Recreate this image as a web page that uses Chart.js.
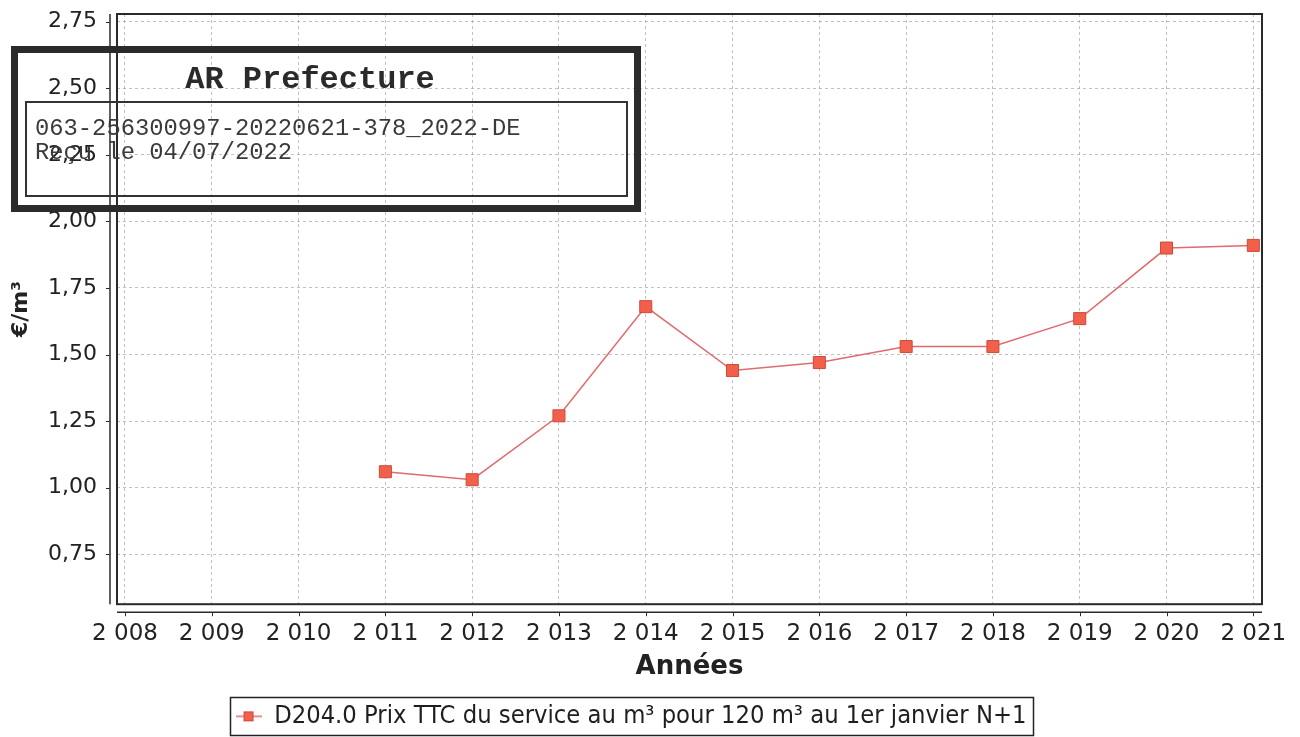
<!DOCTYPE html>
<html>
<head>
<meta charset="utf-8">
<script src="https://cdn.jsdelivr.net/npm/chart.js@4.4.1/dist/chart.umd.min.js"></script>
<style>
  html, body { margin: 0; padding: 0; background: #fff; }
  #wrap { position: relative; width: 1300px; height: 737px; overflow: hidden; }
  #chart { position: absolute; left: 0; top: 0; }
  .stamp-outer { position: absolute; left: 11px; top: 46px; width: 616px; height: 152px; border: 7px solid #2b2b2b; }
  .stamp-inner { position: absolute; left: 25px; top: 101px; width: 599px; height: 92px; border: 2px solid #333; }
  .stamp-title { position: absolute; left: 0; width: 620px; top: 62px; text-align: center; font: bold 32px "Liberation Mono", monospace; color: #2a2a2a; line-height: 36px; }
  .stamp-line { position: absolute; left: 35px; font: 23.8px "Liberation Mono", monospace; color: #3a3a3a; line-height: 26px; white-space: pre; }
</style>
</head>
<body>
<div id="wrap">
  <canvas id="chart" width="1300" height="737"></canvas>
  <div class="stamp-outer"></div>
  <div class="stamp-inner"></div>
  <div class="stamp-title">AR Prefecture</div>
  <div class="stamp-line" style="top:116px">063-256300997-20220621-378_2022-DE</div>
  <div class="stamp-line" style="top:140px">Reçu le 04/07/2022</div>
</div>
<script>
// ---- data ----
const years = [2011, 2012, 2013, 2014, 2015, 2016, 2017, 2018, 2019, 2020, 2021];
const prices = [1.06, 1.03, 1.27, 1.68, 1.44, 1.47, 1.53, 1.53, 1.635, 1.90, 1.91];
const xTickValues = [2008, 2009, 2010, 2011, 2012, 2013, 2014, 2015, 2016, 2017, 2018, 2019, 2020, 2021];
const yTickValues = [0.75, 1.00, 1.25, 1.50, 1.75, 2.00, 2.25, 2.50, 2.75];
const seriesLabel = "D204.0 Prix TTC du service au m³ pour 120 m³ au 1er janvier N+1";
const xTitle = "Années";
const yTitle = "€/m³";

const LINE_COLOR = '#e06a6e';
const POINT_FILL = '#f2604c';
const POINT_EDGE = '#cc4a3c';
const GRID_COLOR = 'rgba(160,160,160,0.65)';

// legend marker (line + square)
const legendMarker = document.createElement('canvas');
legendMarker.width = 26; legendMarker.height = 12;
(function () {
  const c = legendMarker.getContext('2d');
  c.strokeStyle = LINE_COLOR; c.lineWidth = 1.5;
  c.beginPath(); c.moveTo(0, 6); c.lineTo(26, 6); c.stroke();
  c.fillStyle = POINT_FILL; c.fillRect(8, 1, 10, 10);
  c.strokeStyle = POINT_EDGE; c.lineWidth = 1; c.strokeRect(8.5, 1.5, 9, 9);
})();

const framePlugin = {
  id: 'jfreeFrame',
  beforeDatasetsDraw(chart) {
    const { ctx, chartArea: a } = chart;
    ctx.save();
    ctx.strokeStyle = '#2a2a2a';
    ctx.lineWidth = 2;
    ctx.strokeRect(a.left, a.top, a.right - a.left, a.bottom - a.top);
    // detached y axis
    const ax = a.left - 7;
    ctx.lineWidth = 1.5;
    ctx.beginPath(); ctx.moveTo(ax, a.top); ctx.lineTo(ax, a.bottom); ctx.stroke();
    const ys = chart.scales.y;
    ctx.lineWidth = 1;
    yTickValues.forEach(v => {
      const py = Math.round(ys.getPixelForValue(v)) + 0.5;
      ctx.beginPath(); ctx.moveTo(ax - 4, py); ctx.lineTo(ax, py); ctx.stroke();
    });
    // detached x axis
    const ay = a.bottom + 8;
    ctx.lineWidth = 1.5;
    ctx.beginPath(); ctx.moveTo(a.left, ay); ctx.lineTo(a.right, ay); ctx.stroke();
    const xs = chart.scales.x;
    ctx.lineWidth = 1;
    xTickValues.forEach(v => {
      const px = Math.round(xs.getPixelForValue(v)) + 0.5;
      ctx.beginPath(); ctx.moveTo(px, ay); ctx.lineTo(px, ay + 4); ctx.stroke();
    });
    ctx.restore();
  },
  afterDraw(chart) {
    const lg = chart.legend;
    if (!lg || !lg.legendHitBoxes || !lg.legendHitBoxes.length) return;
    const hb = lg.legendHitBoxes[0];
    const cy = hb.top + hb.height / 2;
    const ctx = chart.ctx;
    ctx.save();
    ctx.strokeStyle = '#222';
    ctx.lineWidth = 1.5;
    ctx.strokeRect(Math.round(hb.left - 6) + 0.5, Math.round(cy - 19) + 0.5, Math.round(hb.width + 12), 38);
    ctx.restore();
  }
};

new Chart(document.getElementById('chart'), {
  type: 'line',
  data: {
    datasets: [{
      label: seriesLabel,
      data: years.map((y, i) => ({ x: y, y: prices[i] })),
      borderColor: LINE_COLOR,
      borderWidth: 1.5,
      pointStyle: 'rect',
      pointRadius: 8.5,
      pointBackgroundColor: POINT_FILL,
      pointBorderColor: POINT_EDGE,
      pointBorderWidth: 1,
      tension: 0,
      fill: false
    }]
  },
  options: {
    responsive: false,
    devicePixelRatio: 1,
    animation: false,
    layout: { padding: { top: 14, right: 38, left: 0, bottom: -2 } },
    plugins: {
      tooltip: { enabled: false },
      legend: {
        position: 'bottom',
        labels: {
          usePointStyle: true,
          pointStyle: legendMarker,
          pointStyleWidth: 26,
          padding: 7,
          color: '#1e1e1e',
          font: { family: '"DejaVu Sans Condensed", "DejaVu Sans", sans-serif', size: 25.3 }
        }
      }
    },
    scales: {
      x: {
        type: 'linear',
        min: 2007.908,
        max: 2021.1,
        afterBuildTicks(s) { s.ticks = xTickValues.map(v => ({ value: v })); },
        afterFit(s) { s.height = 92.5; s.paddingLeft = 0; s.paddingRight = 0; },
        ticks: {
          autoSkip: false, maxRotation: 0,
          padding: 16,
          color: '#222',
          font: { family: '"DejaVu Sans", sans-serif', size: 23 },
          callback: v => String(v).replace(/^(\d)(\d{3})$/, '$1 $2')
        },
        grid: { color: GRID_COLOR, lineWidth: 1, drawTicks: false },
        border: { display: false, dash: [3, 3] },
        title: {
          display: true, text: xTitle, color: '#222',
          font: { family: '"DejaVu Sans", sans-serif', size: 26, weight: 'bold' },
          padding: { top: 0, bottom: 14 }
        }
      },
      y: {
        type: 'linear',
        min: 0.5625,
        max: 2.779,
        afterBuildTicks(s) { s.ticks = yTickValues.map(v => ({ value: v })); },
        afterFit(s) { s.width = 117; s.paddingTop = 0; s.paddingBottom = 0; },
        ticks: {
          padding: 20,
          color: '#222',
          font: { family: '"DejaVu Sans", sans-serif', size: 22 },
          callback: v => v.toFixed(2).replace('.', ',')
        },
        grid: { color: GRID_COLOR, lineWidth: 1, drawTicks: false },
        border: { display: false, dash: [3, 3] },
        title: {
          display: true, text: yTitle, color: '#222',
          font: { family: '"DejaVu Sans", sans-serif', size: 22, weight: 'bold' },
          padding: { top: 8, bottom: 0 }
        }
      }
    }
  },
  plugins: [framePlugin]
});
</script>
</body>
</html>
